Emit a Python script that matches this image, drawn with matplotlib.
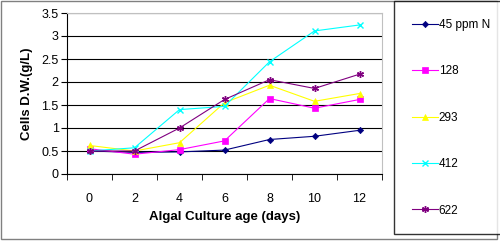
import numpy as np
import matplotlib.pyplot as plt
from matplotlib.patches import Rectangle

plt.rcParams['font.family'] = ['Liberation Sans', 'DejaVu Sans']

days = ["0", "2", "4", "6", "8", "10", "12"]
n45 = [0.50, 0.47, 0.48, 0.52, 0.75, 0.82, 0.95]
n128 = [0.55, 0.43, 0.53, 0.72, 1.64, 1.43, 1.62]
n293 = [0.62, 0.50, 0.68, 1.55, 1.93, 1.58, 1.75]
n412 = [0.50, 0.57, 1.40, 1.47, 2.44, 3.11, 3.24]
n622 = [0.50, 0.50, 1.00, 1.62, 2.05, 1.86, 2.17]

labels = ["45 ppm N", "128", "293", "412", "622"]
series = [n45, n128, n293, n412, n622]
colors = ["#000080", "#FF00FF", "#FFFF00", "#00FFFF", "#800080"]
markers = ["D", "s", "^", "x", (6, 2, 0)]
msizes = [3.2, 4.5, 4.5, 4.5, 5]

fig = plt.figure(figsize=(5, 2.42), dpi=100)
# outer chart frame
fig.patches.append(Rectangle((0.002, 0.012), 0.992, 0.985, transform=fig.transFigure,
                             fill=False, edgecolor="#808080", linewidth=1))

ax = fig.add_axes([67 / 500, 1 - 174 / 242, 315 / 500, 161 / 242])
x = np.arange(len(days))
handles = []
for y, lab, c, m, ms in zip(series, labels, colors, markers, msizes):
    h, = ax.plot(x, y, color=c, marker=m, markersize=ms, linewidth=0.8,
                 markeredgewidth=1.0 if m in ("x", (6, 2, 0)) else 0.5, label=lab)
    handles.append(h)

ax.set_xlim(-0.5, 6.5)
ax.set_ylim(0, 3.5)
ax.set_yticks(np.arange(0, 3.51, 0.5))
ax.set_yticklabels(["0", "0.5", "1", "1.5", "2", "2.5", "3", "3.5"])
ax.set_xticks(x)
ax.set_xticklabels(days)
ax.set_xticks(np.arange(-0.5, 6.6, 1), minor=True)
ax.tick_params(axis="x", which="major", length=0, pad=14, labelsize=9)
ax.tick_params(axis="x", which="minor", length=4, direction="out")
ax.tick_params(axis="y", length=4, direction="out", labelsize=9, pad=2)
ax.grid(axis="y", color="black", linewidth=0.8)
ax.set_axisbelow(True)
for s in ["top", "right"]:
    ax.spines[s].set_color("#c0c0c0")
ax.set_xlabel("Algal Culture age (days)", fontsize=9.5, fontweight="bold", labelpad=4)
ax.set_ylabel("Cells D.W.(g/L)", fontsize=9.5, fontweight="bold", labelpad=6)

leg = fig.legend(handles=handles, loc="upper left", bbox_to_anchor=(394 / 500, 1 - 1 / 242),
                 frameon=True, fancybox=False, edgecolor="black", fontsize=8.5,
                 labelspacing=2.92, handlelength=2.2, handletextpad=0.1,
                 borderpad=1.5, borderaxespad=0)
leg.get_frame().set_linewidth(1)

plt.savefig("out.png", dpi=100)
